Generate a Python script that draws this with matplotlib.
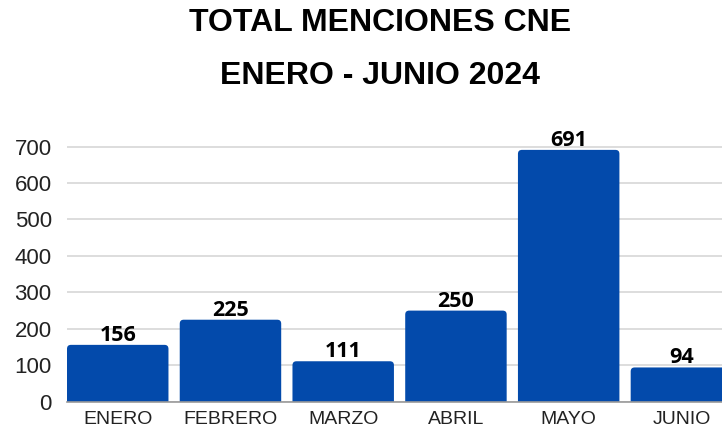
import matplotlib.pyplot as plt
from matplotlib.patches import FancyBboxPatch

# data
months = ['ENERO', 'FEBRERO', 'MARZO', 'ABRIL', 'MAYO', 'JUNIO']
mentions = [156, 225, 111, 250, 691, 94]
yticks = [0, 100, 200, 300, 400, 500, 600, 700]

bar_color = '#034AAB'

fig = plt.figure(figsize=(7.22, 4.34), dpi=100)
ax = fig.add_axes([0.0928, 0.0744, 0.9072, 0.6046])

x = list(range(len(months)))
bars = ax.bar(x, mentions, width=0.9, color='none', zorder=2)

# rounded top corners: swap each bar for a rounded patch (bottom hidden below 0)
for b in bars:
    bx, bw, bh = b.get_x(), b.get_width(), b.get_height()
    patch = FancyBboxPatch((bx, -20), bw, bh + 20,
                           boxstyle='round,pad=0,rounding_size=0.035',
                           mutation_aspect=310, facecolor=bar_color,
                           edgecolor='none', zorder=2)
    ax.add_patch(patch)
    ax.text(bx + bw / 2, bh + 11, str(int(bh)), ha='center', va='baseline',
            fontsize=15.5, fontweight='bold', family='Open Sans', color='black',
            zorder=3)

ax.set_xlim(-0.45, 5.36)
ax.set_ylim(0, 720)
ax.set_yticks(yticks)
ax.set_xticks(x)
ax.set_xticklabels(months, family='Liberation Sans', fontsize=14, color='#222222')
ax.set_yticklabels([str(v) for v in yticks], family='Liberation Sans', fontsize=16, color='#222222')
ax.tick_params(axis='y', length=0, pad=11)
ax.tick_params(axis='x', length=0, pad=7)

ax.yaxis.grid(True, color='#DDDDDD', linewidth=1.4, zorder=0)
ax.set_axisbelow(True)
for s in ['top', 'right', 'left']:
    ax.spines[s].set_visible(False)
ax.spines['bottom'].set_color('#999999')
ax.spines['bottom'].set_linewidth(1.2)
ax.spines['bottom'].set_zorder(3)

fig.text(0.526, 0.948, 'TOTAL MENCIONES CNE', ha='center', va='center',
         fontsize=23, fontweight='bold', family='Liberation Sans')
fig.text(0.526, 0.825, 'ENERO - JUNIO 2024', ha='center', va='center',
         fontsize=23, fontweight='bold', family='Liberation Sans')

fig.savefig('out.png', dpi=100)
